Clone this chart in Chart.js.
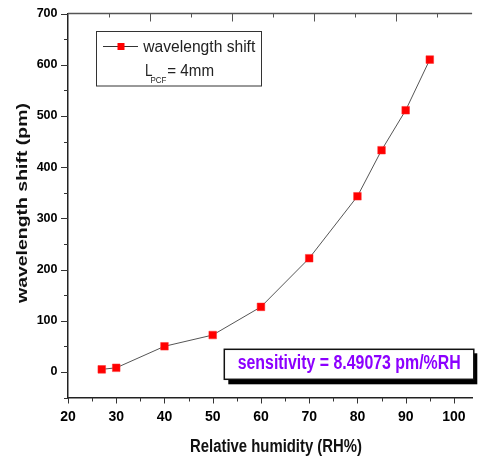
<!DOCTYPE html>
<html>
<head>
<meta charset="utf-8">
<script src="https://cdn.jsdelivr.net/npm/chart.js@4.4.1/dist/chart.umd.min.js"></script>
<style>
  html, body { margin: 0; padding: 0; background: #ffffff; overflow: hidden; }
  canvas { display: block; }
</style>
</head>
<body>
<canvas id="c" width="478" height="459"></canvas>
<script>
// ---- data ----
const humidity = [27, 30, 40, 50, 60, 70, 80, 85, 90, 95];
const wavelengthShift = [5, 8, 50, 72, 127, 222, 343, 433, 511, 610];
const xTickLabels = [20, 30, 40, 50, 60, 70, 80, 90, 100];
const yTickLabels = [0, 100, 200, 300, 400, 500, 600, 700];
const seriesName = 'wavelength shift';
const xTitle = 'Relative humidity (RH%)';
const yTitle = 'wavelength shift (pm)';
const sensitivityText = 'sensitivity = 8.49073 pm/%RH';

const FONT = '"Liberation Sans", Arial, sans-serif';

function stretchText(ctx, text, font, x, y, targetWidth, color) {
  ctx.save();
  ctx.font = font;
  ctx.fillStyle = color;
  ctx.textAlign = 'left';
  ctx.textBaseline = 'alphabetic';
  const w = ctx.measureText(text).width;
  ctx.translate(x, y);
  ctx.scale(targetWidth / w, 1);
  ctx.fillText(text, 0, 0);
  ctx.restore();
}

const decorPlugin = {
  id: 'decor',
  afterDraw(chart) {
    const ctx = chart.ctx;
    const xs = chart.scales.x, ys = chart.scales.y;
    const ca = chart.chartArea;
    ctx.save();
    // top axis line
    ctx.strokeStyle = '#555';
    ctx.lineWidth = 1.5;
    ctx.beginPath();
    ctx.moveTo(ca.left, ca.top);
    ctx.lineTo(ca.right, ca.top);
    ctx.stroke();
    // bottom ticks (outward)
    ctx.strokeStyle = '#333';
    ctx.lineWidth = 1;
    for (let v = 20; v <= xs.max; v += 5) {
      const px = Math.round(xs.getPixelForValue(v)) + 0.5;
      const len = (v % 10 === 0) ? 6 : 4;
      ctx.beginPath();
      ctx.moveTo(px, ca.bottom);
      ctx.lineTo(px, ca.bottom + len);
      ctx.stroke();
    }
    // left ticks (outward)
    for (let v = -50; v <= 700; v += 50) {
      const py = Math.round(ys.getPixelForValue(v)) + 0.5;
      const len = (v % 100 === 0) ? 7 : 4;
      ctx.beginPath();
      ctx.moveTo(ca.left, py);
      ctx.lineTo(ca.left - len, py);
      ctx.stroke();
    }
    // top ticks (inward), top axis divides 20..105 into 10 parts
    ctx.strokeStyle = '#555';
    for (let k = 1; k <= 10; k++) {
      const v = 20 + 8.5 * k;
      if (v > xs.max) break;
      const px = Math.round(xs.getPixelForValue(v)) + 0.5;
      const len = (k % 2 === 0) ? 8 : 4;
      ctx.beginPath();
      ctx.moveTo(px, ca.top);
      ctx.lineTo(px, ca.top + len);
      ctx.stroke();
    }

    // axis titles
    stretchText(ctx, xTitle, 'bold 18px ' + FONT, 190, 452.3, 172, '#111');
    ctx.save();
    ctx.translate(26.8, 303);
    ctx.rotate(-Math.PI / 2);
    stretchText(ctx, yTitle, 'bold 15px ' + FONT, 0, 0, 200, '#111');
    ctx.restore();

    // legend box
    ctx.fillStyle = '#ffffff';
    ctx.fillRect(96.5, 31.5, 165, 54.5);
    ctx.strokeStyle = '#333';
    ctx.lineWidth = 1;
    ctx.strokeRect(96.5, 31.5, 165, 54.5);
    ctx.beginPath();
    ctx.moveTo(103, 46.5);
    ctx.lineTo(138, 46.5);
    ctx.stroke();
    ctx.fillStyle = '#ff0000';
    ctx.fillRect(117.5, 43, 7, 7);
    stretchText(ctx, seriesName, '16px ' + FONT, 143.3, 52, 112, '#222');
    stretchText(ctx, 'L', '16px ' + FONT, 145, 76, 7.5, '#222');
    stretchText(ctx, 'PCF', '9.5px ' + FONT, 150.5, 82.7, 16, '#222');
    stretchText(ctx, '= 4mm', '16px ' + FONT, 167.3, 76, 46.7, '#222');

    // sensitivity box with shadow
    ctx.fillStyle = '#000';
    ctx.fillRect(228.3, 353.3, 249, 31);
    ctx.fillStyle = '#fff';
    ctx.fillRect(224.3, 349.3, 249.5, 30);
    ctx.strokeStyle = '#111';
    ctx.lineWidth = 1.5;
    ctx.strokeRect(224.3, 349.3, 249.5, 30);
    stretchText(ctx, sensitivityText, 'bold 20px ' + FONT, 237.7, 369, 223, '#8c00ff');
    ctx.restore();
  }
};

new Chart(document.getElementById('c'), {
  type: 'scatter',
  data: {
    datasets: [{
      label: seriesName,
      data: humidity.map((h, i) => ({ x: h, y: wavelengthShift[i] })),
      showLine: true,
      borderColor: '#555',
      borderWidth: 1,
      pointStyle: 'rect',
      pointRadius: 5.4,
      pointBackgroundColor: '#ff0000',
      pointBorderColor: '#ff2a2a',
      pointBorderWidth: 0.5
    }]
  },
  options: {
    responsive: false,
    animation: false,
    devicePixelRatio: 1,
    layout: { padding: { top: 13.5, left: 0, right: 0, bottom: 0 } },
    plugins: { legend: { display: false }, tooltip: { enabled: false } },
    scales: {
      x: {
        type: 'linear',
        position: 'bottom',
        min: 20,
        max: 103.77,
        afterBuildTicks: (s) => { s.ticks = xTickLabels.map(v => ({ value: v })); },
        afterFit: (s) => { s.height = 61.5; s.paddingLeft = 0; s.paddingRight = 0; },
        grid: { display: false, drawTicks: false },
        border: { display: true, color: '#222', width: 1.5 },
        ticks: {
          padding: 11.5,
          color: '#000',
          font: { family: FONT, size: 14, weight: 'bold' },
          maxRotation: 0
        },
        title: { display: false }
      },
      y: {
        type: 'linear',
        min: -50,
        max: 700,
        afterBuildTicks: (s) => { s.ticks = yTickLabels.map(v => ({ value: v })); },
        afterFit: (s) => { s.width = 68; s.paddingTop = 0; s.paddingBottom = 0; },
        grid: { display: false, drawTicks: false },
        border: { display: true, color: '#222', width: 1.5 },
        ticks: {
          padding: 10.5,
          color: '#000',
          font: { family: FONT, size: 12.5, weight: 'bold' }
        },
        title: { display: false }
      }
    }
  },
  plugins: [decorPlugin]
});
</script>
</body>
</html>
